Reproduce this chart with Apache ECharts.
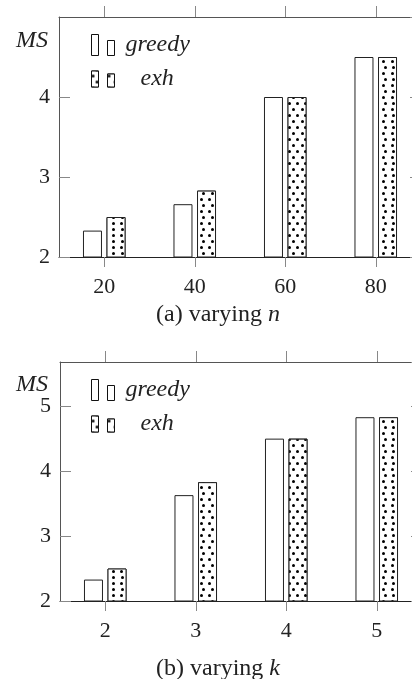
<!DOCTYPE html>
<html>
<head>
<meta charset="utf-8">
<script src="https://cdn.jsdelivr.net/npm/echarts@6/dist/echarts.min.js"></script>
<style>
  html, body { margin: 0; padding: 0; background: #fff; }
  #chart { width: 412px; height: 679px; }
</style>
</head>
<body>
<div id="chart"></div>
<script>
// (a) varying n
const nCats = ['20', '40', '60', '80']
const nGreedy = [2.33, 2.66, 4.0, 4.5]
const nExh = [2.5, 2.83, 4.0, 4.5]
// (b) varying k
const kCats = ['2', '3', '4', '5']
const kGreedy = [2.33, 3.63, 4.5, 4.83]
const kExh = [2.5, 3.83, 4.5, 4.83]

const serif = '"Liberation Serif", "DejaVu Serif", serif'
const frame = '#555'
const tickColor = '#888'

// pgfplots-like staggered dots
const dots = {
  symbol: 'circle',
  color: '#000',
  backgroundColor: '#fff',
  dashArrayX: [[2.2, 4.8], [0, 3.5, 2.2, 1.3]],
  dashArrayY: [2.2, 2.2],
  symbolSize: 1
}

function xAxes (cats, gridIndex) {
  return [{
    type: 'category',
    gridIndex: gridIndex,
    data: cats,
    position: 'bottom',
    axisLine: { show: true, lineStyle: { color: '#222' } },
    axisTick: { show: true, alignWithLabel: true, length: 10, lineStyle: { color: tickColor } },
    axisLabel: { color: '#222', fontFamily: serif, fontSize: 22, margin: 19 }
  }, {
    type: 'category',
    gridIndex: gridIndex,
    data: cats,
    position: 'top',
    axisLine: { show: true, lineStyle: { color: frame } },
    axisTick: { show: true, alignWithLabel: true, length: 11, lineStyle: { color: tickColor } },
    axisLabel: { show: false }
  }]
}

function yAxes (max, gridIndex) {
  return [{
    type: 'value',
    gridIndex: gridIndex,
    position: 'left',
    min: 2,
    max: max,
    interval: 1,
    splitLine: { show: false },
    axisLine: { show: true, lineStyle: { color: frame } },
    axisTick: { show: true, inside: true, length: 11, lineStyle: { color: tickColor } },
    axisLabel: { color: '#222', fontFamily: serif, fontSize: 22, margin: 9, showMaxLabel: false }
  }, {
    type: 'value',
    gridIndex: gridIndex,
    position: 'right',
    min: 2,
    max: max,
    interval: 1,
    splitLine: { show: false },
    axisLine: { show: true, lineStyle: { color: frame } },
    axisTick: { show: true, inside: true, length: 11, lineStyle: { color: tickColor } },
    axisLabel: { show: false }
  }]
}

function bars (name, data, idx, decal) {
  let style = { color: '#fff', borderColor: '#222', borderWidth: 1 }
  if (decal) style.decal = decal
  return {
    name: name,
    type: 'bar',
    data: data,
    xAxisIndex: idx * 2,
    yAxisIndex: idx * 2,
    barWidth: 19,
    barGap: '24%',
    itemStyle: style
  }
}

function legend (top) {
  return {
    orient: 'vertical',
    left: 91,
    top: top,
    padding: 0,
    itemWidth: 23,
    itemHeight: 21,
    itemGap: 10,
    itemStyle: { borderWidth: 1, borderColor: '#111' },
    data: [
      { name: 'greedy', icon: 'path://M0,0H7V21H0Z M16,6H23V21H16Z' },
      { name: 'exh', icon: 'path://M0,0H7V16H0Z M16,3H23V16H16Z' }
    ],
    formatter: function (name) {
      return name === 'exh' ? '{e|' + name + '}' : '{g|' + name + '}'
    },
    textStyle: {
      rich: {
        g: { fontFamily: serif, fontStyle: 'italic', fontSize: 24, lineHeight: 21, color: '#222', padding: [0, 0, 0, 6] },
        e: { fontFamily: serif, fontStyle: 'italic', fontSize: 24, lineHeight: 21, color: '#222', padding: [0, 0, 0, 21] }
      }
    }
  }
}

function caption (label, v, top) {
  return {
    text: label + ' varying {i|' + v + '}',
    left: 213,
    textAlign: 'center',
    top: top,
    textStyle: {
      fontFamily: serif, fontSize: 24, fontWeight: 'normal', color: '#222',
      rich: { i: { fontFamily: serif, fontSize: 24, fontStyle: 'italic', color: '#222' } }
    }
  }
}

function msLabel (top) {
  return {
    text: 'MS',
    left: 11,
    top: top,
    textStyle: { fontFamily: serif, fontSize: 24, fontStyle: 'italic', fontWeight: 'normal', color: '#222' }
  }
}

let dom = echarts.init(document.getElementById('chart'), null, { renderer: 'canvas' })
let option = {
  animation: false,
  title: [msLabel(24), caption('(a)', 'n', 298), msLabel(368), caption('(b)', 'k', 652)],
  legend: [legend(33), legend(378)],
  grid: [
    { left: 59, top: 17, width: 362, height: 240, outerBoundsMode: 'none' },
    { left: 60, top: 362, width: 362, height: 239, outerBoundsMode: 'none' }
  ],
  xAxis: xAxes(nCats, 0).concat(xAxes(kCats, 1)),
  yAxis: yAxes(5, 0).concat(yAxes(5.68, 1)),
  series: [
    bars('greedy', nGreedy, 0),
    bars('exh', nExh, 0, dots),
    bars('greedy', kGreedy, 1),
    bars('exh', kExh, 1, dots)
  ]
}
dom.setOption(option)
</script>
</body>
</html>
